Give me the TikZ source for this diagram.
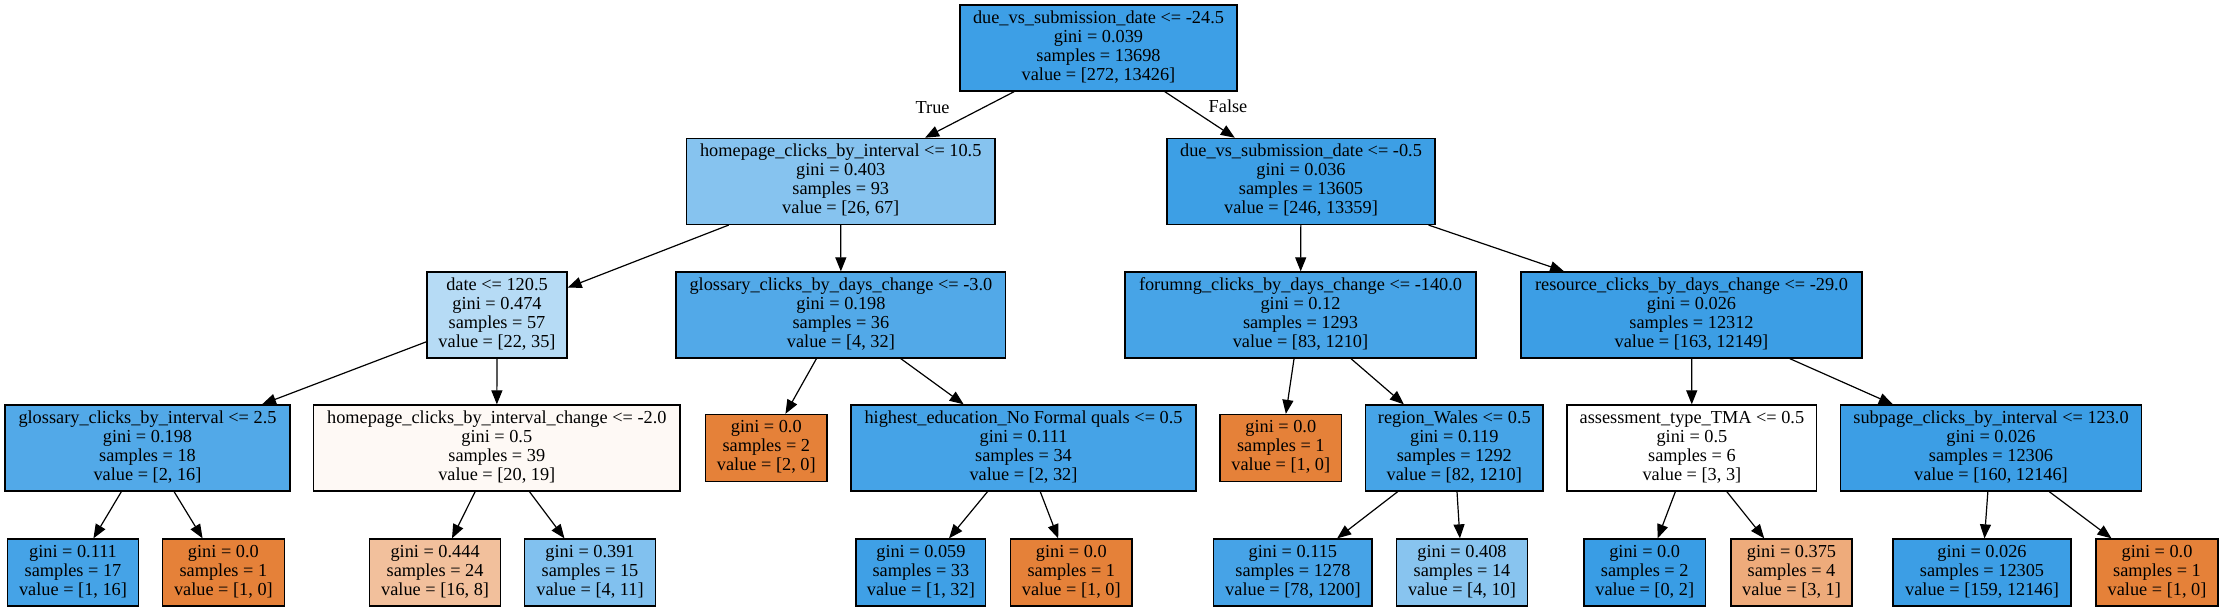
\documentclass[tikz,border=0pt]{standalone}
\usepackage{fontspec}
\setmainfont{Liberation Serif}
\usetikzlibrary{arrows.meta}
\definecolor{cA}{RGB}{61,159,230}
\definecolor{cB}{RGB}{134,195,239}
\definecolor{cC}{RGB}{61,159,229}
\definecolor{cDate}{RGB}{182,219,245}
\definecolor{cGl}{RGB}{82,169,232}
\definecolor{cFo}{RGB}{71,164,231}
\definecolor{cRe}{RGB}{60,158,229}
\definecolor{cHc}{RGB}{254,249,245}
\definecolor{cOr}{RGB}{229,129,57}
\definecolor{cHe}{RGB}{69,163,231}
\definecolor{cRg}{RGB}{70,164,231}
\definecolor{cLt}{RGB}{242,192,156}
\definecolor{cLb}{RGB}{129,193,239}
\definecolor{cL5}{RGB}{63,160,230}
\definecolor{cL7}{RGB}{70,163,231}
\definecolor{cL8}{RGB}{136,196,239}
\definecolor{cL9}{RGB}{57,157,229}
\definecolor{cL10}{RGB}{238,171,123}
\newcommand{\tlines}[1]{\raisebox{-2.5pt}{\begin{tabular}{@{}c@{}}#1\end{tabular}}}
\begin{document}
\begin{tikzpicture}[x=1pt,y=-1pt,
  tnode/.style={draw=black, line width=1.3pt, rectangle, inner sep=0pt,
    font=\fontsize{18.3}{18.9}\selectfont, minimum height=86pt},
  leafnode/.style={tnode, minimum height=67pt},
  edgeline/.style={draw=black, line width=1.2pt, -{Triangle[length=14pt,width=11pt]}},
  elabel/.style={font=\fontsize{18.3}{18.9}\selectfont, inner sep=0pt}]
\useasboundingbox (0,0) rectangle (2223,611);
% level 0
\node[tnode, fill=cA, minimum width=277pt] (n0) at (1098.5,48) {\tlines{due\_vs\_submission\_date <= -24.5\\gini = 0.039\\samples = 13698\\value = [272, 13426]}};
% level 1
\node[tnode, fill=cB, minimum width=308.5pt] (n1) at (840.75,181.4) {\tlines{homepage\_clicks\_by\_interval <= 10.5\\gini = 0.403\\samples = 93\\value = [26, 67]}};
\node[tnode, fill=cC, minimum width=268pt] (n2) at (1301,181.4) {\tlines{due\_vs\_submission\_date <= -0.5\\gini = 0.036\\samples = 13605\\value = [246, 13359]}};
% level 2
\node[tnode, fill=cDate, minimum width=140pt] (n3) at (497,315) {\tlines{date <= 120.5\\gini = 0.474\\samples = 57\\value = [22, 35]}};
\node[tnode, fill=cGl, minimum width=329.7pt] (n4) at (840.9,315) {\tlines{glossary\_clicks\_by\_days\_change <= -3.0\\gini = 0.198\\samples = 36\\value = [4, 32]}};
\node[tnode, fill=cFo, minimum width=351pt] (n5) at (1300.5,315) {\tlines{forumng\_clicks\_by\_days\_change <= -140.0\\gini = 0.12\\samples = 1293\\value = [83, 1210]}};
\node[tnode, fill=cRe, minimum width=341pt] (n6) at (1691.5,315) {\tlines{resource\_clicks\_by\_days\_change <= -29.0\\gini = 0.026\\samples = 12312\\value = [163, 12149]}};
% level 3
\node[tnode, fill=cGl, minimum width=285pt] (n7) at (147.5,448) {\tlines{glossary\_clicks\_by\_interval <= 2.5\\gini = 0.198\\samples = 18\\value = [2, 16]}};
\node[tnode, fill=cHc, minimum width=366.5pt] (n8) at (496.8,448) {\tlines{homepage\_clicks\_by\_interval\_change <= -2.0\\gini = 0.5\\samples = 39\\value = [20, 19]}};
\node[leafnode, fill=cOr, minimum width=121.3pt] (n9) at (766.3,448) {\tlines{gini = 0.0\\samples = 2\\value = [2, 0]}};
\node[tnode, fill=cHe, minimum width=345pt] (n10) at (1023.5,448) {\tlines{highest\_education\_No Formal quals <= 0.5\\gini = 0.111\\samples = 34\\value = [2, 32]}};
\node[leafnode, fill=cOr, minimum width=121.5pt] (n11) at (1280.8,448) {\tlines{gini = 0.0\\samples = 1\\value = [1, 0]}};
\node[tnode, fill=cRg, minimum width=177.4pt] (n12) at (1454.3,448) {\tlines{region\_Wales <= 0.5\\gini = 0.119\\samples = 1292\\value = [82, 1210]}};
\node[tnode, fill=white, minimum width=249.7pt] (n13) at (1691.9,448) {\tlines{assessment\_type\_TMA <= 0.5\\gini = 0.5\\samples = 6\\value = [3, 3]}};
\node[tnode, fill=cRe, minimum width=300.7pt] (n14) at (1991,448) {\tlines{subpage\_clicks\_by\_interval <= 123.0\\gini = 0.026\\samples = 12306\\value = [160, 12146]}};
% level 4
\node[leafnode, fill=cHe, minimum width=130.5pt] (l1) at (73,572.5) {\tlines{gini = 0.111\\samples = 17\\value = [1, 16]}};
\node[leafnode, fill=cOr, minimum width=122pt] (l2) at (223.4,572.5) {\tlines{gini = 0.0\\samples = 1\\value = [1, 0]}};
\node[leafnode, fill=cLt, minimum width=131.2pt] (l3) at (435.1,572.5) {\tlines{gini = 0.444\\samples = 24\\value = [16, 8]}};
\node[leafnode, fill=cLb, minimum width=130.5pt] (l4) at (590,572.5) {\tlines{gini = 0.391\\samples = 15\\value = [4, 11]}};
\node[leafnode, fill=cL5, minimum width=129.8pt] (l5) at (920.9,572.5) {\tlines{gini = 0.059\\samples = 33\\value = [1, 32]}};
\node[leafnode, fill=cOr, minimum width=121.4pt] (l6) at (1071.3,572.5) {\tlines{gini = 0.0\\samples = 1\\value = [1, 0]}};
\node[leafnode, fill=cL7, minimum width=158.2pt] (l7) at (1292.9,572.5) {\tlines{gini = 0.115\\samples = 1278\\value = [78, 1200]}};
\node[leafnode, fill=cL8, minimum width=130.5pt] (l8) at (1462,572.5) {\tlines{gini = 0.408\\samples = 14\\value = [4, 10]}};
\node[leafnode, fill=cL9, minimum width=121.3pt] (l9) at (1644.7,572.5) {\tlines{gini = 0.0\\samples = 2\\value = [0, 2]}};
\node[leafnode, fill=cL10, minimum width=121pt] (l10) at (1791.5,572.5) {\tlines{gini = 0.375\\samples = 4\\value = [3, 1]}};
\node[leafnode, fill=cRe, minimum width=178pt] (l11) at (1982,572.5) {\tlines{gini = 0.026\\samples = 12305\\value = [159, 12146]}};
\node[leafnode, fill=cOr, minimum width=122pt] (l12) at (2157,572.5) {\tlines{gini = 0.0\\samples = 1\\value = [1, 0]}};
% edges
\draw[edgeline] (n0) -- (n1);
\draw[edgeline] (n0) -- (n2);
\node[elabel] (tlab) at (932.6,107.3) {True};
\node[elabel] (flab) at (1228,106.7) {False};
\draw[edgeline] (n1) -- (n3);
\draw[edgeline] (n1) -- (n4);
\draw[edgeline] (n2) -- (n5);
\draw[edgeline] (n2) -- (n6);
\draw[edgeline] (n3) -- (n7);
\draw[edgeline] (n3) -- (n8);
\draw[edgeline] (n4) -- (n9);
\draw[edgeline] (n4) -- (n10);
\draw[edgeline] (n5) -- (n11);
\draw[edgeline] (n5) -- (n12);
\draw[edgeline] (n6) -- (n13);
\draw[edgeline] (n6) -- (n14);
\draw[edgeline] (n7) -- (l1);
\draw[edgeline] (n7) -- (l2);
\draw[edgeline] (n8) -- (l3);
\draw[edgeline] (n8) -- (l4);
\draw[edgeline] (n10) -- (l5);
\draw[edgeline] (n10) -- (l6);
\draw[edgeline] (n12) -- (l7);
\draw[edgeline] (n12) -- (l8);
\draw[edgeline] (n13) -- (l9);
\draw[edgeline] (n13) -- (l10);
\draw[edgeline] (n14) -- (l11);
\draw[edgeline] (n14) -- (l12);
\end{tikzpicture}
\end{document}
